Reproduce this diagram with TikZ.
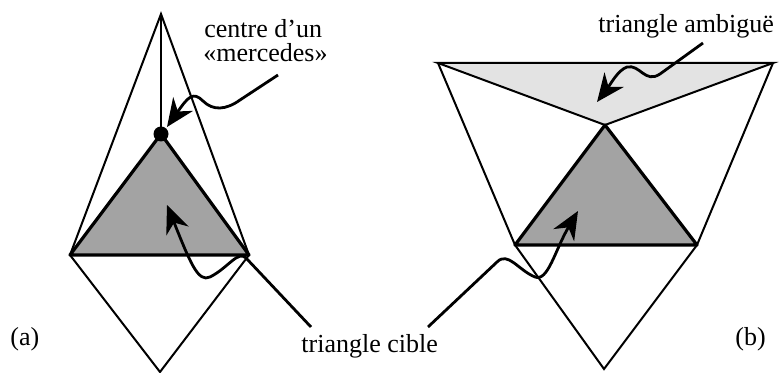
\documentclass[tikz,border=0pt]{standalone}
\usepackage{fontspec}
\setmainfont{Liberation Serif}
\usetikzlibrary{arrows.meta}

\begin{document}
\begin{tikzpicture}[x=0.5pt, y=-0.5pt, font=\fontsize{13}{15}\selectfont,
    thinline/.style={line width=1pt},
    cibleedge/.style={line width=1.6pt, line join=round},
    pointer/.style={line width=1.4pt, -{Stealth[length=14pt, width=12pt, inset=4.5pt]}}]
    \useasboundingbox (0,0) rectangle (782,373);

    % (a) vertices
    \coordinate (aT) at (161,14);
    \coordinate (aM) at (161,134);
    \coordinate (aL) at (70,255);
    \coordinate (aR) at (249,255);
    \coordinate (aB) at (160,372);

    % (b) vertices
    \coordinate (bTL) at (438,63);
    \coordinate (bTR) at (773,63);
    \coordinate (bC) at (605,125);
    \coordinate (bL) at (515,245);
    \coordinate (bR) at (697,245);
    \coordinate (bB) at (604,369);

    % shaded triangles
    \fill[black!36] (aM) -- (aL) -- (aR) -- cycle;
    \fill[black!36] (bC) -- (bL) -- (bR) -- cycle;
    \fill[black!11] (bTL) -- (bTR) -- (bC) -- cycle;

    % thin edges of (a)
    \draw[thinline] (aL) -- (aT) -- (aR);
    \draw[thinline] (aT) -- (aM);
    \draw[thinline] (aL) -- (aB) -- (aR);

    % thin edges of (b)
    \draw[thinline] (bTL) -- (bTR) -- (bC) -- cycle;
    \draw[thinline] (bTL) -- (bL);
    \draw[thinline] (bTR) -- (bR);
    \draw[thinline] (bL) -- (bB) -- (bR);

    % target triangles
    \draw[cibleedge] (aM) -- (aL) -- (aR) -- cycle;
    \draw[cibleedge] (bC) -- (bL) -- (bR) -- cycle;
    \fill (aM) circle (7.5);

    % labels
    \node[anchor=base west, inner sep=0pt] (centre) at (204,38) {centre d'un};
    \node[anchor=base west, inner sep=0pt] (merc) at (203,62) {«mercedes»};
    \node[anchor=base west, inner sep=0pt] (ambig) at (598,33) {triangle ambiguë};
    \node[anchor=base west, inner sep=0pt] (cible) at (301,353) {triangle cible};
    \node[anchor=base west, inner sep=0pt] (capa) at (10,346) {(a)};
    \node[anchor=base west, inner sep=0pt] (capb) at (735,346) {(b)};

    % pointers
    \coordinate (mercTail) at (278,75);
    \coordinate (ambigTail) at (703,43);
    \coordinate (cibleTailA) at (311,327);
    \coordinate (cibleTailB) at (428,327);

    \draw[pointer] (mercTail) -- (240,100) .. controls (226,110) and (213,111) .. (203,101)
        .. controls (193,91) and (188,97) .. (167,127);
    \draw[pointer] (ambigTail) -- (660,74) .. controls (645,84) and (640,64) .. (627,67)
        .. controls (618,70) and (610,85) .. (597,102);
    \draw[pointer] (cibleTailA) -- (246,258) .. controls (238,250) and (228,268) .. (210,277)
        .. controls (198,283) and (190,262) .. (167,205);
    \draw[pointer] (cibleTailB) -- (497,262) .. controls (508,251) and (518,270) .. (535,277)
        .. controls (548,282) and (555,250) .. (578,211);
\end{tikzpicture}
\end{document}
